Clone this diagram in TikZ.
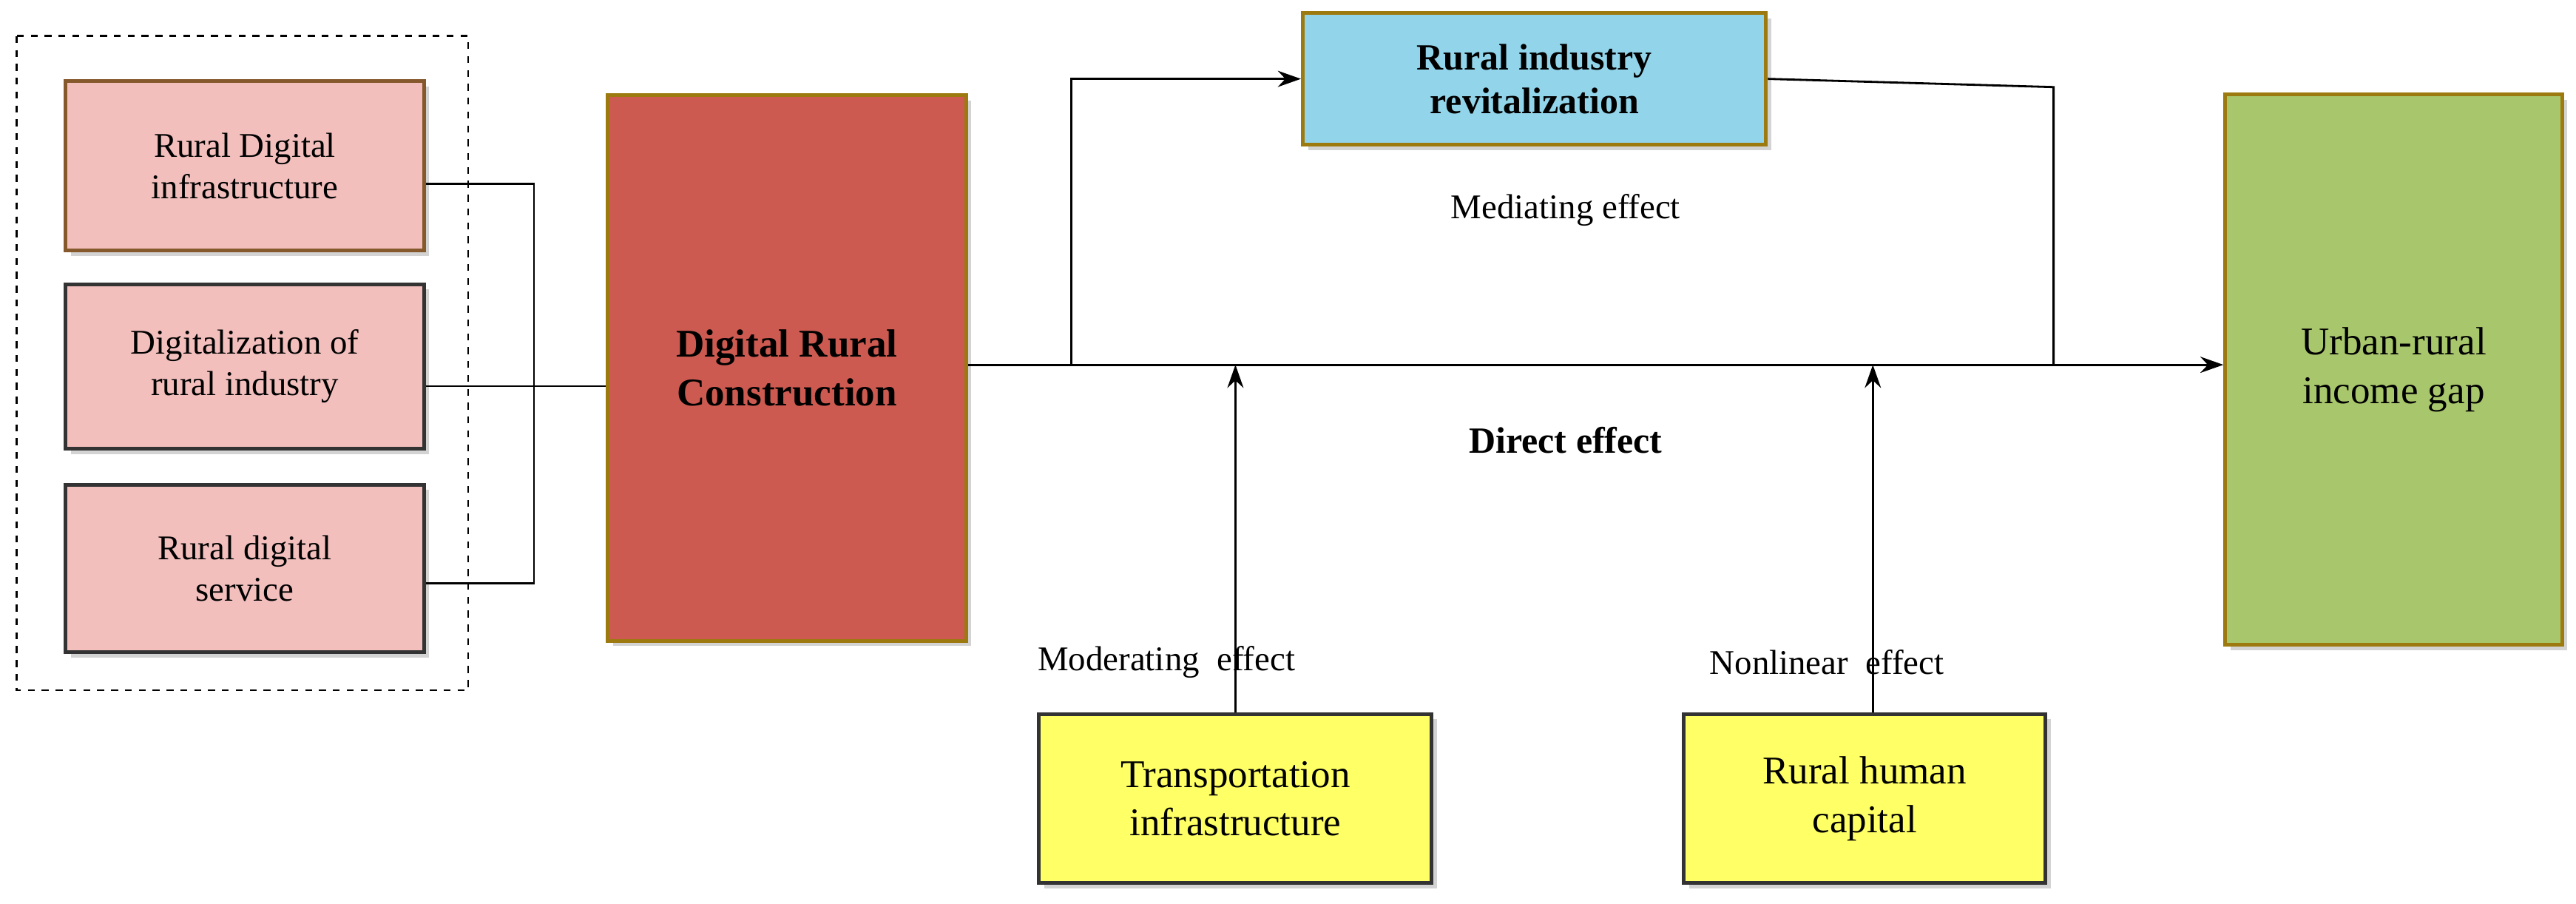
\documentclass[tikz,border=0pt]{standalone}
\usepackage{fontspec}
\setmainfont{Liberation Serif}
\usetikzlibrary{arrows.meta,shadows}

\begin{document}
\begin{tikzpicture}[x=0.025cm,y=-0.025cm]
	\tikzstyle{every node}=[font=\fontsize{15pt}{18pt}\selectfont,align=center]
	\tikzstyle{box}=[draw,line width=1.6pt,inner sep=0pt,drop shadow={opacity=0.35}]
	\tikzstyle{link}=[line width=0.9pt]
	\tikzstyle{arr}=[line width=0.9pt,-{Stealth[length=10pt,width=7pt]}]
	\definecolor{pinkbox}{HTML}{F2BFBD}
	\definecolor{redbox}{HTML}{CD5A50}
	\definecolor{greenbox}{HTML}{A8C66C}
	\definecolor{bluebox}{HTML}{92D4EA}
	\definecolor{yellowbox}{HTML}{FFFF66}
	\definecolor{goldedge}{HTML}{9C7A10}

	\useasboundingbox (0,0) rectangle (1568,550);

	%% dashed group
	\draw [dashed,line width=0.9pt] (10,22) rectangle (285,420);

	%% left boxes
	\node [box,draw=brown!70!black,fill=pinkbox,minimum width=218*0.025cm,minimum height=103*0.025cm] (infra) at (149,101) {Rural Digital\\infrastructure};
	\node [box,draw=black!80,fill=pinkbox,minimum width=218*0.025cm,minimum height=100*0.025cm] (indus) at (149,223) {Digitalization of\\rural industry};
	\node [box,draw=black!80,fill=pinkbox,minimum width=218*0.025cm,minimum height=102*0.025cm] (serv) at (149,346) {Rural digital\\service};

	%% main boxes
	\node [box,draw=goldedge,fill=redbox,minimum width=218*0.025cm,minimum height=332*0.025cm,font=\fontsize{17pt}{21pt}\selectfont\bfseries] (drc) at (479,224) {Digital Rural\\Construction};
	\node [box,draw=goldedge,fill=greenbox,minimum width=205*0.025cm,minimum height=335*0.025cm,font=\fontsize{17pt}{21pt}\selectfont] (gap) at (1457,225) {Urban-rural\\income gap};
	\node [box,draw=goldedge,fill=bluebox,minimum width=282*0.025cm,minimum height=80*0.025cm,font=\fontsize{16pt}{19pt}\selectfont\bfseries] (rev) at (934,48) {Rural industry\\revitalization};
	\node [box,draw=black!80,fill=yellowbox,minimum width=239*0.025cm,minimum height=103*0.025cm,font=\fontsize{17pt}{21pt}\selectfont] (trans) at (752,486) {Transportation\\infrastructure};
	\node [box,draw=black!80,fill=yellowbox,minimum width=220*0.025cm,minimum height=103*0.025cm,font=\fontsize{17pt}{21pt}\selectfont] (hum) at (1135,486) {Rural human\\capital};

	%% bracket
	\coordinate (bt) at (325,112);
	\coordinate (bb) at (325,355);
	\coordinate (bm) at (325,235);
	\draw [link] (infra.east |- bt) -- (bt) -- (bb) -- (serv.east |- bb);
	\draw [link] (indus.east |- bm) -- (bm) -- (drc.west |- bm);

	%% direct path
	\coordinate (ms) at (652,222);
	\coordinate (me) at (1250,222);
	\draw [arr] (drc.east |- ms) -- (gap.west |- ms);

	%% mediating path
	\draw [arr] (ms) -- (652,48) -- (rev.west);
	\draw [link] (rev.east) -- (1250,53) -- (me);

	%% moderating / nonlinear
	\draw [arr] (trans.north) -- (trans.north |- ms);
	\draw [arr] (hum.north -| 1140,0) -- (1140,222);

	%% labels
	\node (medl) at (953,128) {Mediating effect};
	\node [font=\fontsize{16pt}{19pt}\selectfont\bfseries] (dirl) at (953,268) {Direct effect};
	\node (modl) at (710,403) {Moderating\ \ effect};
	\node (nonl) at (1112,403) {Nonlinear\ \ effect};
\end{tikzpicture}
\end{document}
